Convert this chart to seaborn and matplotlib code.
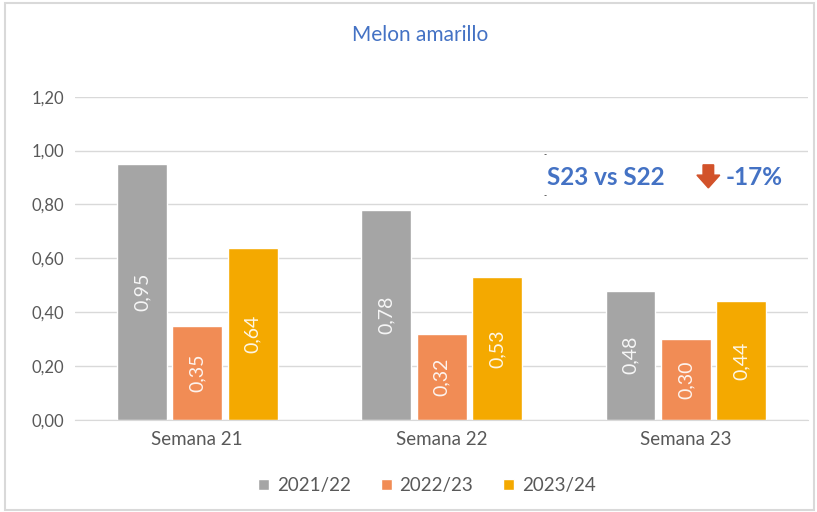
import pandas as pd
import seaborn as sns
import matplotlib.pyplot as plt
from matplotlib.patches import Rectangle, FancyArrow

semanas = ["Semana 21", "Semana 22", "Semana 23"]
campanas = ["2021/22", "2022/23", "2023/24"]
v_2122 = [0.95, 0.78, 0.48]
v_2223 = [0.35, 0.32, 0.30]
v_2324 = [0.64, 0.53, 0.44]
colores = ["#A5A5A5", "#F18C55", "#F4A900"]
yticks = [0.0, 0.2, 0.4, 0.6, 0.8, 1.0, 1.2]

df = pd.DataFrame({
    "semana": semanas * 3,
    "campana": [c for c in campanas for _ in semanas],
    "valor": v_2122 + v_2223 + v_2324,
})

sns.set_style("white")
plt.rcParams["font.family"] = ["Lato", "DejaVu Sans"]

fig = plt.figure(figsize=(8.17, 5.12), dpi=100)
ax = fig.add_axes([0.092, 0.18, 0.897, 0.631])

sns.barplot(data=df, x="semana", y="valor", hue="campana", palette=colores,
            width=0.68, saturation=1, ax=ax, legend=True)

# small white gap between bars, shrink around centre
for cont in ax.containers:
    for bar in cont:
        w = bar.get_width()
        bar.set_x(bar.get_x() + w * 0.05)
        bar.set_width(w * 0.9)
    labels = [f"{b.get_height():.2f}".replace(".", ",") for b in cont]
    ax.bar_label(cont, labels=labels, label_type="center", rotation=90,
                 color="white", fontsize=14, alpha=0.9)

ax.set_ylim(0, 1.2)
ax.set_yticks(yticks)
ax.set_yticklabels([f"{t:.2f}".replace(".", ",") for t in yticks])
ax.set_xlabel("")
ax.set_ylabel("")
ax.yaxis.grid(True, color="#D9D9D9", linewidth=1)
ax.set_axisbelow(True)
for s in ["top", "right", "left"]:
    ax.spines[s].set_visible(False)
ax.spines["bottom"].set_color("#D9D9D9")
ax.tick_params(axis="both", length=0, labelsize=12, colors="#595959", pad=8)
ax.tick_params(axis="x", labelsize=13.5)

ax.legend(loc="upper center", bbox_to_anchor=(0.48, -0.125), ncol=3, frameon=False,
          fontsize=13.5, handlelength=0.6, handleheight=0.6, columnspacing=1.6,
          handletextpad=0.4, labelcolor="#595959")

fig.text(0.514, 0.932, "Melon amarillo", ha="center", va="center",
         fontsize=15, color="#4472C4")

# annotation
fig.text(0.670, 0.653, "S23 vs S22", ha="left", va="center", fontsize=17.5,
         fontweight="bold", color="#4472C4")
fig.text(0.888, 0.653, "-17%", ha="left", va="center", fontsize=17.5,
         fontweight="bold", color="#4472C4")
fig.patches.append(FancyArrow(0.867, 0.678, 0, -0.045, width=0.013, head_width=0.028,
                              head_length=0.025, length_includes_head=True,
                              color="#D2522A", transform=fig.transFigure))
fig.text(0.667, 0.697, "-", fontsize=6, color="black", ha="center", va="center")
fig.text(0.667, 0.618, "-", fontsize=6, color="black", ha="center", va="center")

fig.patches.append(Rectangle((0.006, 0.004), 0.99, 0.99, fill=False,
                             edgecolor="#D9D9D9", linewidth=1.5,
                             transform=fig.transFigure))

fig.savefig("out.png", dpi=100)
